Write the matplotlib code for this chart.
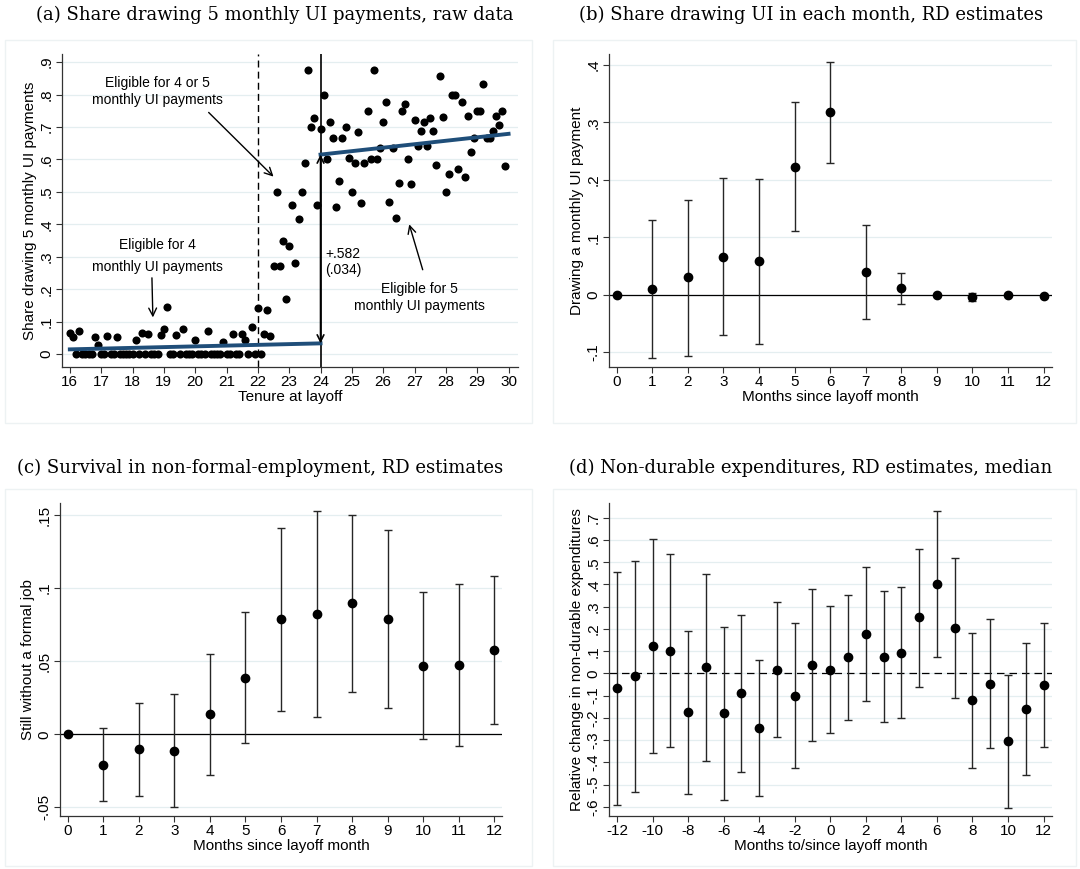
import numpy as np
import matplotlib
matplotlib.use('Agg')
import matplotlib.pyplot as plt
from matplotlib.ticker import FuncFormatter
from matplotlib.patches import Rectangle

plt.rcParams['font.family'] = ['Liberation Sans', 'DejaVu Sans']
plt.rcParams['axes.unicode_minus'] = False

# ---- panel (a): raw data, share drawing 5 payments by tenure (0.1-month bins)
tenure = np.round(np.arange(160, 300) / 10.0, 1)
share_nonzero = {
    16.0: 0.066, 16.1: 0.052, 16.3: 0.072, 16.8: 0.053, 16.9: 0.027,
    17.2: 0.056, 17.5: 0.053, 18.1: 0.044, 18.3: 0.066, 18.5: 0.062,
    18.9: 0.060, 19.0: 0.077, 19.1: 0.144, 19.4: 0.060, 19.6: 0.077,
    20.0: 0.044, 20.4: 0.071, 20.9: 0.038, 21.2: 0.062, 21.5: 0.062,
    21.6: 0.043, 21.8: 0.084, 22.0: 0.143, 22.2: 0.062, 22.3: 0.137,
    22.4: 0.055, 22.5: 0.272, 22.6: 0.500, 22.7: 0.272, 22.8: 0.350,
    22.9: 0.169, 23.0: 0.334, 23.1: 0.461, 23.2: 0.280, 23.3: 0.417,
    23.4: 0.500, 23.5: 0.588, 23.6: 0.876, 23.7: 0.701, 23.8: 0.729,
    23.9: 0.459,
}
share_right = [
    0.693, 0.800, 0.600, 0.715, 0.667, 0.454, 0.533, 0.667, 0.700, 0.606,
    0.500, 0.588, 0.684, 0.467, 0.590, 0.749, 0.600, 0.876, 0.600, 0.636,
    0.714, 0.778, 0.470, 0.636, 0.420, 0.528, 0.750, 0.770, 0.600, 0.525,
    0.721, 0.642, 0.688, 0.714, 0.642, 0.727, 0.688, 0.583, 0.857, 0.730,
    0.500, 0.555, 0.800, 0.800, 0.572, 0.778, 0.546, 0.733, 0.624, 0.667,
    0.749, 0.749, 0.833, 0.667, 0.667, 0.688, 0.733, 0.706, 0.749, 0.579,
]
share = np.array([share_nonzero.get(t, 0.0) for t in tenure[tenure < 24]] + share_right)

fit_left_x = [16, 24]
fit_left_y = [0.0145, 0.033]
fit_right_x = [24, 30]
fit_right_y = [0.615, 0.679]
jump_label = "+.582\n(.034)"

# ---- panel (b): drawing UI in each month
months_b = np.arange(0, 13)
est_b = [0, 0.010, 0.030, 0.066, 0.058, 0.223, 0.318, 0.039, 0.011, -0.001, -0.0035, 0.0, -0.002]
hi_b = [0, 0.130, 0.165, 0.204, 0.202, 0.335, 0.405, 0.121, 0.038, 0.0, 0.0035, 0.0, 0.0]
lo_b = [0, -0.111, -0.107, -0.071, -0.085, 0.111, 0.230, -0.043, -0.016, -0.002, -0.0105, 0.0, -0.004]

# ---- panel (c): survival in non-formal employment
months_c = np.arange(0, 13)
est_c = [0, -0.0212, -0.0103, -0.0112, 0.0137, 0.0388, 0.0788, 0.0826, 0.0897, 0.0788, 0.0468, 0.0477, 0.0578]
hi_c = [0, 0.0041, 0.0217, 0.0279, 0.0548, 0.0838, 0.1409, 0.1527, 0.1498, 0.1400, 0.0970, 0.1030, 0.1080]
lo_c = [0, -0.0459, -0.0420, -0.0500, -0.0279, -0.0059, 0.0160, 0.0121, 0.0290, 0.0180, -0.0030, -0.0080, 0.0068]

# ---- panel (d): non-durable expenditures
months_d = np.arange(-12, 13)
est_d = [-0.067, -0.013, 0.123, 0.100, -0.175, 0.027, -0.180, -0.090, -0.246, 0.015, -0.100, 0.036, 0.016,
         0.072, 0.178, 0.075, 0.093, 0.252, 0.402, 0.204, -0.121, -0.046, -0.304, -0.159, -0.052]
hi_d = [0.456, 0.507, 0.606, 0.535, 0.192, 0.448, 0.210, 0.265, 0.060, 0.320, 0.226, 0.379, 0.301,
        0.354, 0.480, 0.372, 0.388, 0.561, 0.730, 0.520, 0.181, 0.246, -0.005, 0.139, 0.229]
lo_d = [-0.590, -0.532, -0.358, -0.330, -0.544, -0.393, -0.570, -0.444, -0.553, -0.288, -0.426, -0.306, -0.267,
        -0.210, -0.124, -0.220, -0.202, -0.060, 0.075, -0.112, -0.424, -0.337, -0.603, -0.458, -0.333]

GRID = '#e4eef0'
NAVY = '#1f4e79'


def stata_fmt(v, pos):
    s = ('%.2f' % v).rstrip('0').rstrip('.')
    if s in ('-0', ''):
        s = '0'
    s = s.replace('0.', '.')
    return s


def style_axis(ax):
    for side in ('top', 'right'):
        ax.spines[side].set_visible(False)
    for side in ('left', 'bottom'):
        ax.spines[side].set_linewidth(0.9)
        ax.spines[side].set_color('#333333')
    ax.tick_params(axis='both', direction='out', length=4, width=0.8, color='#333333',
                   labelsize=11, pad=2)
    ax.tick_params(axis='y', labelrotation=90)
    for lab in ax.get_yticklabels():
        lab.set_va('center')
    ax.yaxis.set_major_formatter(FuncFormatter(stata_fmt))
    ax.grid(axis='y', color=GRID, lw=0.9)
    ax.set_axisbelow(True)


def rd_panel(ax, x, est, lo, hi, dashed=False):
    est = np.array(est)
    yerr = [est - np.array(lo), np.array(hi) - est]
    ax.axhline(0, color='black', lw=0.9, ls=(0, (6, 4)) if dashed else '-', zorder=1)
    ax.errorbar(x, est, yerr=yerr, fmt='o', color='black', ecolor='#262626',
                ms=6, elinewidth=1.0, capsize=3, capthick=1.0, zorder=3)


def arrow(ax, start, end):
    ax.annotate('', xy=end, xytext=start,
                arrowprops=dict(arrowstyle='->', color='black', lw=1.0, mutation_scale=14,
                                shrinkA=0, shrinkB=0))


fig = plt.figure(figsize=(10.8, 8.69), dpi=100)

# light frames around each panel
for (x0, y0, x1, y1) in [(5, 40, 532, 423), (553, 40, 1076, 423),
                         (5, 489, 532, 866), (553, 489, 1076, 866)]:
    fig.add_artist(Rectangle((x0 / 1080, 1 - y1 / 869), (x1 - x0) / 1080, (y1 - y0) / 869,
                             transform=fig.transFigure, fill=False, ec='#edf2f3', lw=1))

ax_a = fig.add_axes([0.0574, 0.578, 0.4222, 0.3598])
ax_b = fig.add_axes([0.5639, 0.578, 0.4099, 0.3598])
ax_c = fig.add_axes([0.0556, 0.0613, 0.4090, 0.3595])
ax_d = fig.add_axes([0.5639, 0.0613, 0.4099, 0.3595])

# (a)
ax_a.scatter(tenure, share, s=34, color='black', zorder=3, lw=0)
ax_a.plot(fit_left_x, fit_left_y, color=NAVY, lw=2.8, zorder=4)
ax_a.plot(fit_right_x, fit_right_y, color=NAVY, lw=2.8, zorder=4)
ax_a.axvline(22, color='black', lw=1.0, ls=(0, (5, 3)), zorder=2)
ax_a.axvline(24, color='black', lw=1.2, zorder=2)
ax_a.annotate('', xy=(24, fit_left_y[1]), xytext=(24, fit_right_y[0]),
              arrowprops=dict(arrowstyle='<->', color='black', lw=1.2, mutation_scale=12,
                              shrinkA=0, shrinkB=0), zorder=5)
ax_a.text(24.15, 0.283, jump_label, ha='left', va='center', fontsize=10, linespacing=1.15)

ax_a.text(18.8, 0.81, 'Eligible for 4 or 5\nmonthly UI payments', ha='center', va='center',
          fontsize=10, linespacing=1.25)
arrow(ax_a, (20.43, 0.745), (22.5, 0.547))
ax_a.text(18.78, 0.336, 'Eligible for 4', ha='center', va='center', fontsize=10)
ax_a.text(18.78, 0.268, 'monthly UI payments', ha='center', va='center', fontsize=10)
arrow(ax_a, (18.62, 0.235), (18.65, 0.113))
ax_a.text(27.15, 0.175, 'Eligible for 5\nmonthly UI payments', ha='center', va='center',
          fontsize=10, linespacing=1.25)
arrow(ax_a, (27.26, 0.26), (26.83, 0.40))

ax_a.set_xlim(15.75, 30.3)
ax_a.set_ylim(-0.039, 0.925)
ax_a.set_xticks(range(16, 31))
ax_a.set_yticks(np.round(np.arange(0, 0.95, 0.1), 1))
ax_a.set_xlabel('Tenure at layoff', fontsize=11, labelpad=1)
ax_a.set_ylabel('Share drawing 5 monthly UI payments', fontsize=11, labelpad=2)
style_axis(ax_a)

# (b)
rd_panel(ax_b, months_b, est_b, lo_b, hi_b)
ax_b.set_xlim(-0.216, 12.23)
ax_b.set_ylim(-0.1254, 0.419)
ax_b.set_xticks(months_b)
ax_b.set_yticks([-0.1, 0, 0.1, 0.2, 0.3, 0.4])
ax_b.set_xlabel('Months since layoff month', fontsize=11, labelpad=1)
ax_b.set_ylabel('Drawing a monthly UI payment', fontsize=11, labelpad=2)
style_axis(ax_b)

# (c)
rd_panel(ax_c, months_c, est_c, lo_c, hi_c)
ax_c.set_xlim(-0.216, 12.21)
ax_c.set_ylim(-0.0557, 0.158)
ax_c.set_xticks(months_c)
ax_c.set_yticks([-0.05, 0, 0.05, 0.1, 0.15])
ax_c.set_xlabel('Months since layoff month', fontsize=11, labelpad=1)
ax_c.set_ylabel('Still without a formal job', fontsize=11, labelpad=2)
style_axis(ax_c)

# (d)
rd_panel(ax_d, months_d, est_d, lo_d, hi_d, dashed=True)
ax_d.set_xlim(-12.45, 12.46)
ax_d.set_ylim(-0.64, 0.765)
ax_d.set_xticks(range(-12, 13, 2))
ax_d.set_yticks(np.round(np.arange(-0.6, 0.75, 0.1), 1))
ax_d.set_xlabel('Months to/since layoff month', fontsize=11, labelpad=1)
ax_d.set_ylabel('Relative change in non-durable expenditures', fontsize=11, labelpad=2)
style_axis(ax_d)

# panel titles (serif, as in the paper)
title_kw = dict(ha='center', va='center', fontsize=13, family=['DejaVu Serif'])
fig.text(275 / 1080, 1 - 15 / 869, '(a) Share drawing 5 monthly UI payments, raw data', **title_kw)
fig.text(811 / 1080, 1 - 15 / 869, '(b) Share drawing UI in each month, RD estimates', **title_kw)
fig.text(260 / 1080, 1 - 468 / 869, '(c) Survival in non-formal-employment, RD estimates', **title_kw)
fig.text(811 / 1080, 1 - 468 / 869, '(d) Non-durable expenditures, RD estimates, median', **title_kw)

fig.savefig('out.png', dpi=100, facecolor='white')
